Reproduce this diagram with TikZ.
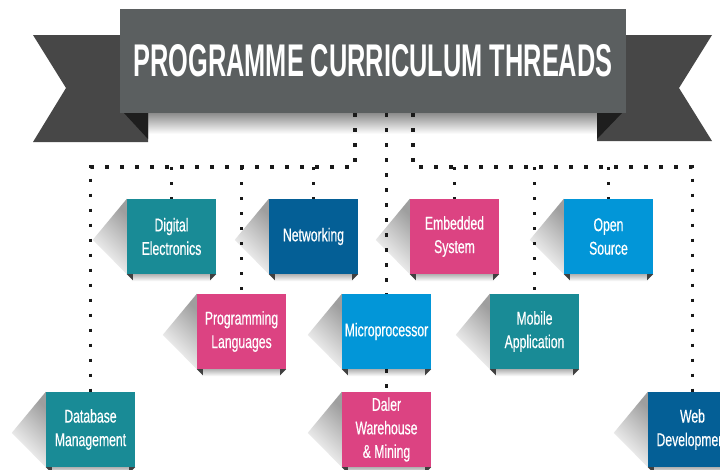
\documentclass[tikz,border=0pt]{standalone}
\usepackage{fontspec}
\usepackage{graphicx}
\newfontfamily\boxfont[FakeStretch=0.66,FakeBold=0.4]{Liberation Sans}
\newfontfamily\titlefont[FakeStretch=0.7]{Liberation Sans}
\definecolor{teal1}{HTML}{198B96}
\definecolor{dblue}{HTML}{045F96}
\definecolor{pink1}{HTML}{DC4382}
\definecolor{lblue}{HTML}{0296D8}
\definecolor{bannerc}{HTML}{5B5F60}
\definecolor{tailc}{HTML}{474747}
\definecolor{foldc}{HTML}{1E1E1E}
\definecolor{dotc}{HTML}{1A1A1A}
\pgfdeclarelayer{bglayer}
\pgfdeclarelayer{shadowlayer}
\pgfdeclarelayer{linelayer}
\pgfsetlayers{bglayer,shadowlayer,linelayer,main}
\newcommand{\boxdeco}[1]{%
  \begin{pgfonlayer}{shadowlayer}
    \shade[top color=black!38, bottom color=white, shading angle=-45]
      (#1.north west) -- ++(-34,41) -- (#1.south west) -- cycle;
    \shade[top color=black!30, bottom color=white]
      ([xshift=5pt]#1.south west) rectangle ([xshift=-5pt,yshift=-7pt]#1.south east);
    \fill[black!75] (#1.south west) -- ([xshift=6pt]#1.south west) -- ([xshift=6pt,yshift=-6pt]#1.south west) -- cycle;
    \fill[black!75] (#1.south east) -- ([xshift=-6pt]#1.south east) -- ([xshift=-6pt,yshift=-6pt]#1.south east) -- cycle;
  \end{pgfonlayer}}
\begin{document}
\begin{tikzpicture}[x=1pt,y=-1pt,
  tbox/.style={rectangle, minimum width=89pt, minimum height=75pt, inner sep=0pt,
    text=white, align=center, font=\boxfont\fontsize{18.5}{23.5}\selectfont},
  dotline/.style={draw=dotc, line width=3.4pt, dash pattern=on 3.4pt off 11.6pt, line cap=butt},
]
\useasboundingbox (0,0) rectangle (720,469);
\begin{pgfonlayer}{bglayer}
  \fill[white] (0,0) rectangle (720,469);
\end{pgfonlayer}
\clip (0,0) rectangle (720,469);

% ribbon tails
\fill[tailc] (33,35) -- (148,35) -- (148,142) -- (33,142) -- (66,88) -- cycle;
\fill[tailc] (712,35) -- (597,35) -- (597,141) -- (712,141) -- (679,88) -- cycle;
\fill[foldc] (124,113) -- (148,113) -- (148,139) -- cycle;
\fill[foldc] (622,113) -- (597,113) -- (597,139) -- cycle;

% banner
\node[rectangle, fill=bannerc, text=white, minimum width=506pt, minimum height=104pt, inner sep=0pt]
  (banner) at (373,61)
  {\resizebox{479pt}{32pt}{\titlefont\bfseries PROGRAMME CURRICULUM THREADS}};
\begin{pgfonlayer}{shadowlayer}
  \shade[top color=black!45, bottom color=white] (148,113) rectangle (597,134);
\end{pgfonlayer}

% boxes
\node[tbox, fill=teal1] (dig)   at (171.5,236.5) {Digital\\Electronics};
\node[tbox, fill=dblue] (net)   at (313.5,236.5) {Networking};
\node[tbox, fill=pink1] (emb)   at (454.5,236.5) {Embedded\\System};
\node[tbox, fill=lblue] (open)  at (608.5,236.5) {Open\\Source};
\node[tbox, fill=pink1] (prog)  at (241.5,331.5) {Programming\\Languages};
\node[tbox, fill=lblue] (micro) at (386.5,331.5) {Microprocessor};
\node[tbox, fill=teal1] (mob)   at (534.5,331.5) {Mobile\\Application};
\node[tbox, fill=teal1] (db)    at (90.5,429.5)  {Database\\Management};
\node[tbox, fill=pink1] (daler) at (386.5,429.5) {Daler\\Warehouse\\\& Mining};
\node[tbox, fill=dblue] (web)   at (692.5,429.5) {Web\\Development};

\boxdeco{dig}\boxdeco{net}\boxdeco{emb}\boxdeco{open}\boxdeco{prog}
\boxdeco{micro}\boxdeco{mob}\boxdeco{db}\boxdeco{daler}\boxdeco{web}

% dotted connectors
\coordinate (jl) at (355,167);
\coordinate (jr) at (413,167);
\begin{pgfonlayer}{linelayer}
  \draw[dotline] (banner.south -| jl) -- (jl) -- (jl -| db) -- (db.north);
  \draw[dotline] (jl -| dig) -- (dig.north);
  \draw[dotline] (jl -| prog) -- (prog.north);
  \draw[dotline] (jl -| net) -- (net.north);
  \draw[dotline] (banner.south -| jr) -- (jr) -- (jr -| web) -- (web.north);
  \draw[dotline] (jr -| emb) -- (emb.north);
  \draw[dotline] (jr -| mob) -- (mob.north);
  \draw[dotline] (jr -| open) -- (open.north);
  \draw[dotline] (banner.south -| micro) -- (micro.north);
  \draw[dotline] (micro.south) -- (daler.north);
\end{pgfonlayer}
\end{tikzpicture}
\end{document}
